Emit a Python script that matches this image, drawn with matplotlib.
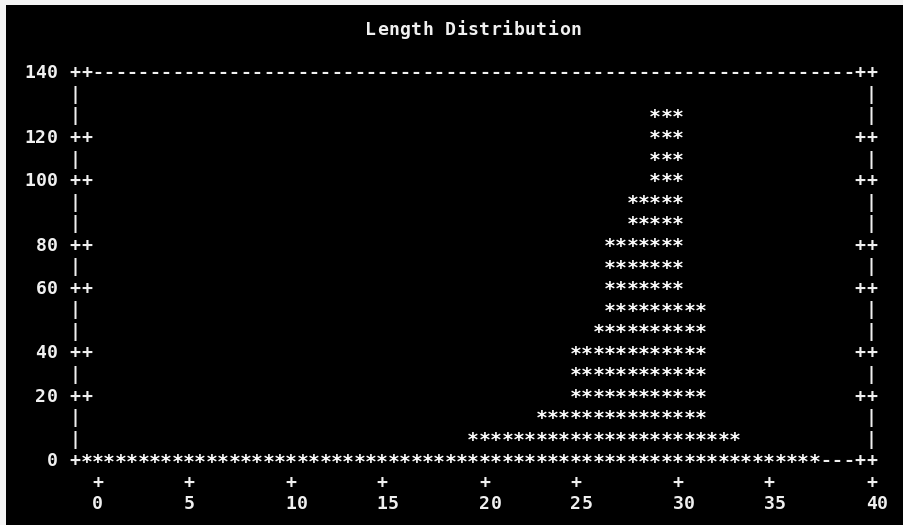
import math
import numpy as np
import matplotlib
matplotlib.use("Agg")
import matplotlib.pyplot as plt
from matplotlib import transforms
from matplotlib.patches import Rectangle

# ---- chart data -------------------------------------------------------
title = "Length Distribution"
lengths = np.arange(0, 38)
counts = np.array([0, 0, 0, 0, 0, 0, 0, 0, 0, 0,
                   0, 0, 0, 0, 0, 0, 0, 1, 1, 3,
                   9, 10, 11, 15, 17, 39, 47, 78, 93, 125,
                   124, 55, 9, 6, 3, 2, 1, 1])
x_ticks = [0, 5, 10, 15, 20, 25, 30, 35, 40]
y_ticks = [0, 20, 40, 60, 80, 100, 120, 140]
x_range = (-1, 40)
y_range = (0, 140)

# ---- character-cell terminal layout -------------------------------------
N_COLS, N_ROWS = 80, 24
COL_L, COL_R = 6, 76        # plot border columns
ROW_T, ROW_B = 3, 21        # plot border rows
CELL_W, CELL_H = 11.376, 21.55
X0_PX, ROW3_PX = 1.06, 71.7
W_PX, H_PX = 904, 525

FG = "#f0f0f0"
BG = "#000000"
FONT = "DejaVu Sans Mono"
FSIZE = 13.1
STAR_FSIZE = 14.2


def col_of(x):
    return int(math.floor(COL_L + (x - x_range[0]) * (COL_R - COL_L)
                          / (x_range[1] - x_range[0]) + 0.5))


def row_of(y):
    return int(math.floor(ROW_B - (y - y_range[0]) * (ROW_B - ROW_T)
                          / (y_range[1] - y_range[0]) + 0.5))


def x_of_col(c):
    return x_range[0] + (c - COL_L) * (x_range[1] - x_range[0]) / (COL_R - COL_L)


def y_of_row(r):
    return y_range[0] + (ROW_B - r) * (y_range[1] - y_range[0]) / (ROW_B - ROW_T)


grid = [[" "] * N_COLS for _ in range(N_ROWS)]


def put(r, c, s):
    for i, ch in enumerate(s):
        if 0 <= c + i < N_COLS and 0 <= r < N_ROWS:
            grid[r][c + i] = ch


# title, centred over the plot area
mid = (COL_L + COL_R) // 2
put(1, mid - len(title) // 2, title)

# border
for c in range(COL_L, COL_R + 1):
    grid[ROW_T][c] = "-"
    grid[ROW_B][c] = "-"
for r in range(ROW_T, ROW_B + 1):
    grid[r][COL_L] = "|"
    grid[r][COL_R] = "|"
for r in (ROW_T, ROW_B):
    grid[r][COL_L] = "+"
    grid[r][COL_R] = "+"

# y tics on both sides, labels on the left
for v in y_ticks:
    r = row_of(v)
    put(r, COL_L, "++")
    put(r, COL_R - 1, "++")
    lab = str(v)
    put(r, COL_L - 1 - len(lab), lab)

# x tics below the border, labels under them
for v in x_ticks:
    c = col_of(v)
    put(ROW_B + 1, c, "+")
    lab = str(v)
    put(ROW_B + 2, c - (len(lab) - 1) // 2, lab)

# filled boxes, one per length bin
for c in range(COL_L + 1, COL_R):
    x = x_of_col(c)
    L = int(math.floor(x + 0.5))
    idx = np.where(lengths == L)[0]
    if idx.size == 0:
        continue
    n = row_of(counts[idx[0]])
    for r in range(ROW_B, n - 1, -1):
        grid[r][c] = "*"

# ---- render -------------------------------------------------------------
fig = plt.figure(figsize=(W_PX / 100, H_PX / 100), dpi=100, facecolor=BG)
ax = fig.add_axes([0, 0, 1, 1])
ax.set_facecolor(BG)
ax.axis("off")


# data limits so that character cells land on their pixel positions
def x_of_px(p):
    return x_of_col((p - X0_PX) / CELL_W - 0.5)


def y_of_py(p):
    return y_of_row((p - ROW3_PX) / CELL_H + ROW_T)


ax.set_xlim(x_of_px(0), x_of_px(W_PX))
ax.set_ylim(y_of_py(H_PX), y_of_py(0))

# baseline shifts (in points) so glyphs sit centred in their cells
em_txt = FSIZE * 100 / 72
em_star = STAR_FSIZE * 100 / 72
trans_txt = transforms.offset_copy(ax.transData, fig=fig,
                                   y=-0.3645 * em_txt * 72 / 100, units="points")
trans_star = transforms.offset_copy(ax.transData, fig=fig,
                                    y=-(0.58 * em_star - 3.5) * 72 / 100,
                                    units="points")

for r in range(N_ROWS):
    for c in range(N_COLS):
        ch = grid[r][c]
        if ch == " ":
            continue
        if ch == "*":
            ax.text(x_of_col(c), y_of_row(r), ch, transform=trans_star,
                    ha="center", va="baseline", color="#ffffff",
                    family=FONT, fontsize=STAR_FSIZE, fontweight="bold")
        else:
            ax.text(x_of_col(c), y_of_row(r), ch, transform=trans_txt,
                    ha="center", va="baseline", color=FG,
                    family=FONT, fontsize=FSIZE, fontweight="bold")

# light window edge along the top and left
fig.patches.append(Rectangle((0, H_PX - 5), W_PX, 5, transform=None,
                             facecolor="#f4f4f4", edgecolor="none"))
fig.patches.append(Rectangle((0, 0), 6, H_PX, transform=None,
                             facecolor="#f4f4f4", edgecolor="none"))

fig.savefig("out.png", dpi=100, facecolor=BG)
